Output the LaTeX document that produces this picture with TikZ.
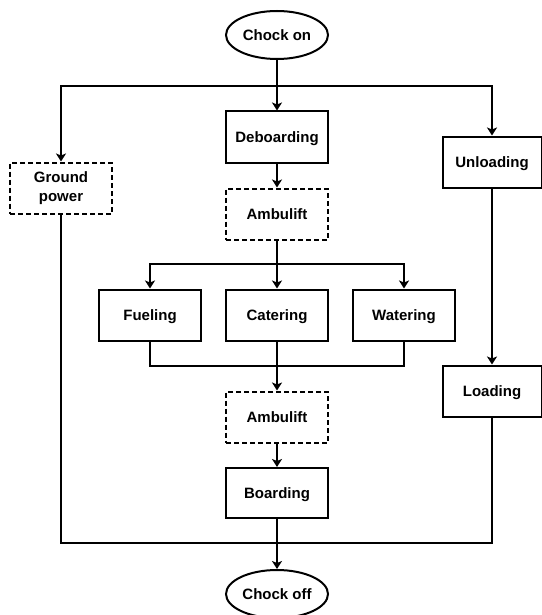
\documentclass[tikz,border=0pt]{standalone}
\usepackage{fontspec}
\setmainfont{Liberation Sans}
\usetikzlibrary{shapes.geometric,arrows.meta}
\begin{document}
\begin{tikzpicture}[x=1pt,y=-1pt,
  base/.style={draw=black,line width=2pt,font=\fontsize{15}{19}\selectfont\bfseries,inner sep=0pt,fill=white,text height=10.8pt,text depth=0pt},
  boxnode/.style={base,rectangle,minimum width=102pt,minimum height=51pt},
  dashbox/.style={boxnode,dash pattern=on 5pt off 3pt},
  ovalnode/.style={base,ellipse,minimum width=102pt,minimum height=48pt},
  conn/.style={line width=2pt,draw=black},
  arr/.style={conn,-{Stealth[length=8pt,width=10pt,inset=2pt]}}]
\useasboundingbox (0,0) rectangle (541,615);
\node[ovalnode] (chockon) at (277,35) {Chock on};
\node[boxnode] (deb) at (277,137) {Deboarding};
\node[dashbox,align=center,text height=,text depth=] (gp) at (61,188) {Ground\\power};
\node[boxnode,minimum width=99pt] (unl) at (492,162) {Unloading};
\node[dashbox] (amb1) at (277,214) {Ambulift};
\node[boxnode] (fuel) at (150,315) {Fueling};
\node[boxnode] (cat) at (277,315) {Catering};
\node[boxnode] (wat) at (404,315) {Watering};
\node[dashbox] (amb2) at (277,417) {Ambulift};
\node[boxnode,minimum height=50pt] (board) at (277,493) {Boarding};
\node[boxnode,minimum width=99pt] (load) at (492,391) {Loading};
\node[ovalnode] (chockoff) at (277,594) {Chock off};
\coordinate (s1) at (277,86);
\coordinate (s2) at (277,264);
\coordinate (j1) at (277,366);
\coordinate (j2) at (277,543);
\draw[arr] (chockon.south) -- (deb.north);
\draw[arr] (s1) -| (gp.north);
\draw[arr] (s1) -| (unl.north);
\draw[arr] (deb.south) -- (amb1.north);
\draw[conn] (amb1.south) -- (s2);
\draw[arr] (s2) -| (fuel.north);
\draw[arr] (s2) -- (cat.north);
\draw[arr] (s2) -| (wat.north);
\draw[conn] (fuel.south) |- (j1);
\draw[conn] (wat.south) |- (j1);
\draw[arr] (cat.south) -- (amb2.north);
\draw[arr] (amb2.south) -- (board.north);
\draw[arr] (unl.south) -- (load.north);
\draw[conn] (gp.south) |- (j2);
\draw[conn] (load.south) |- (j2);
\draw[arr] (board.south) -- (chockoff.north);
\end{tikzpicture}
\end{document}
